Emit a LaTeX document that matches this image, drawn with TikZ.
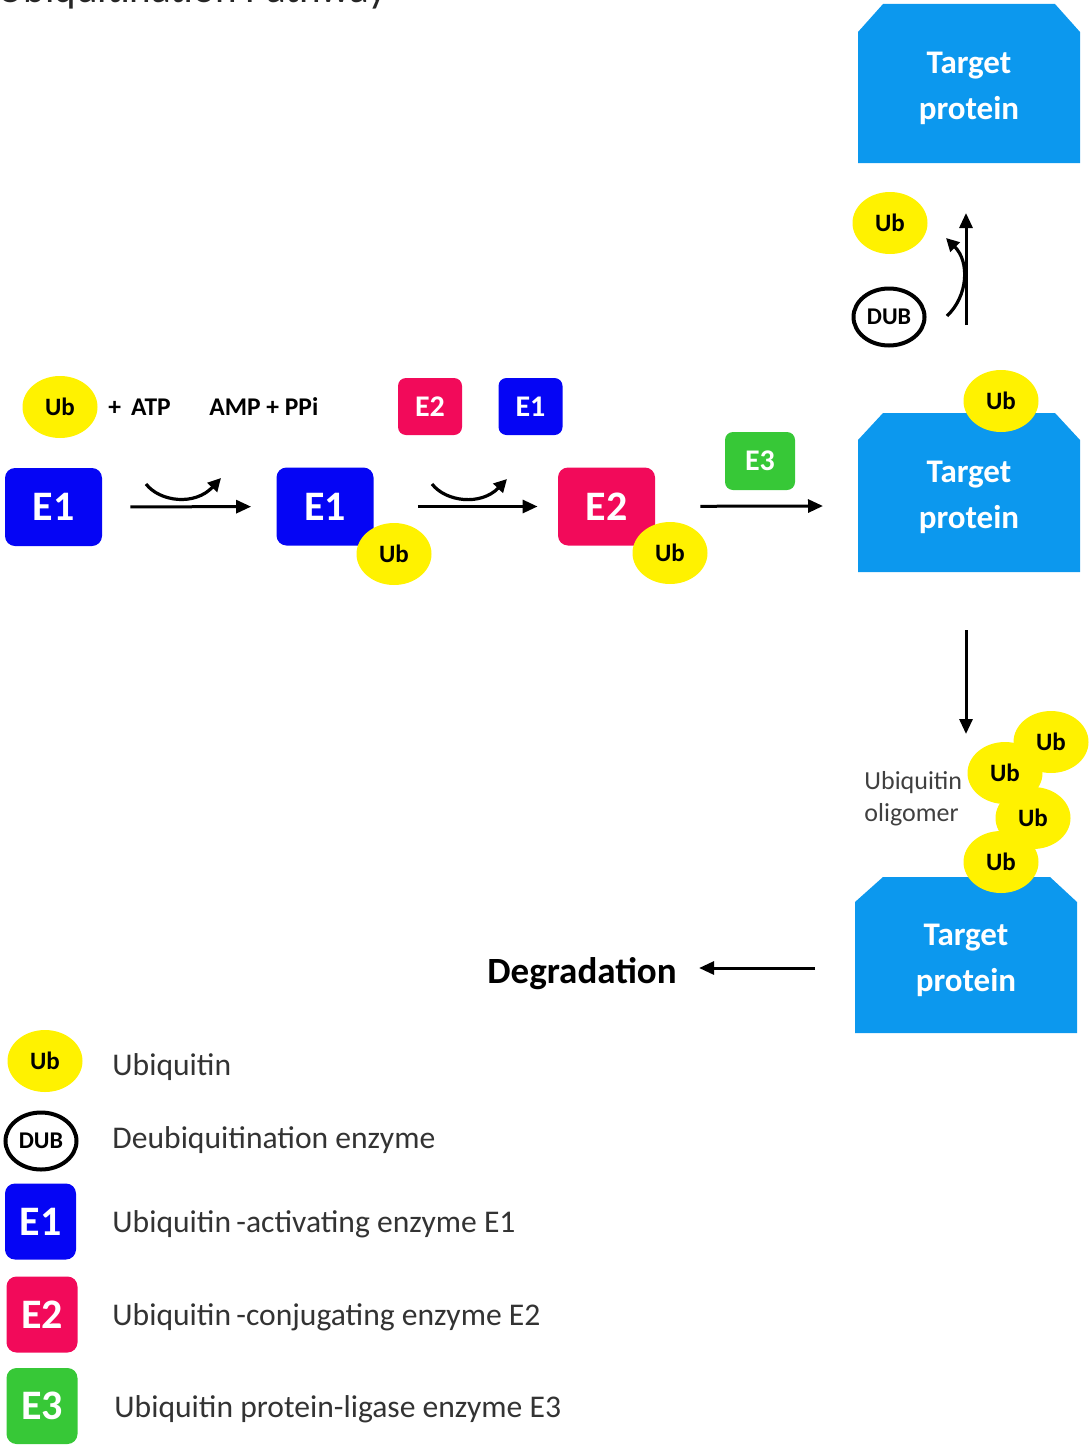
\documentclass[tikz,border=0pt]{standalone}
\usepackage{fontspec}
\setmainfont{Carlito}
\usetikzlibrary{arrows.meta,shapes.geometric}
\definecolor{ubY}{RGB}{255,242,0}
\definecolor{e1B}{RGB}{5,5,245}
\definecolor{e2R}{RGB}{242,10,90}
\definecolor{e3G}{RGB}{55,200,55}
\definecolor{tpB}{RGB}{12,152,238}
\begin{document}
\begin{tikzpicture}[x=0.5pt,y=-0.5pt,
  ub/.style={ellipse, fill=ubY, minimum width=37.5pt, minimum height=31pt, inner sep=0pt, font=\bfseries\fontsize{12.5pt}{15pt}\selectfont},
  dubn/.style={ellipse, draw=black, line width=2pt, fill=white, minimum width=35.5pt, minimum height=28.5pt, inner sep=0pt, font=\bfseries\fontsize{12pt}{14pt}\selectfont},
  enz/.style={rounded corners=5pt, inner sep=0pt, text=white, font=\bfseries\fontsize{21pt}{24pt}\selectfont, minimum width=48.5pt, minimum height=39pt},
  enzs/.style={rounded corners=4pt, inner sep=0pt, text=white, font=\bfseries\fontsize{15pt}{18pt}\selectfont, minimum width=32pt, minimum height=28.5pt},
  enzl/.style={enz, minimum width=35.5pt, minimum height=38pt},
  tptext/.style={align=center, text=white, font=\bfseries\fontsize{16.5pt}{23pt}\selectfont, inner sep=0pt},
  arr/.style={-{Triangle[length=7.5pt,width=6.5pt]}, line width=1.5pt},
  carr/.style={-{Triangle[length=6.5pt,width=6.5pt]}, line width=1.6pt},
  leg/.style={anchor=base west, inner sep=0pt, text=black!80, font=\fontsize{15.8pt}{18pt}\selectfont},
  chem/.style={anchor=base west, inner sep=0pt, font=\bfseries\fontsize{12.75pt}{15pt}\selectfont},
]
\useasboundingbox (0,0) rectangle (1089,1445);
\clip (0,0) rectangle (1089,1445);

% title (cut at top)
\node[anchor=base west, inner sep=0pt, font=\fontsize{20.5pt}{24pt}\selectfont, text=black!85] (title) at (-3,3) {Ubiquitination Pathway};

% top row
\node[ub] (ub0) at (60,407) {Ub};
\node[chem] (atp) at (108,415) {+\hspace{5pt}ATP};
\node[chem] (amp) at (209,415) {AMP + PPi};
\node[enzs, fill=e2R] (e2s) at (430,406.5) {E2};
\node[enzs, fill=e1B] (e1s) at (530.5,406.5) {E1};
\node[enzs, fill=e3G, minimum width=35pt, minimum height=29pt] (e3s) at (760,461) {E3};

% main row
\node[enz, fill=e1B] (e1a) at (53.5,507) {E1};
\node[enz, fill=e1B] (e1b) at (325,506.5) {E1};
\node[ub] (ub1) at (394,554) {Ub};
\node[enz, fill=e2R] (e2b) at (606.5,506.5) {E2};
\node[ub] (ub2) at (670,553) {Ub};

\draw[arr, shorten <=14pt, shorten >=12.5pt] (e1a) -- (e1b);
\draw[carr] (146,484) .. controls (160,502) and (195,506) .. (221,478);
\draw[arr, shorten <=22pt, shorten >=10pt] (e1b) -- (e2b);
\draw[carr] (432,484) .. controls (446,502) and (481,506) .. (507,479);
\coordinate (a3) at (823,506);
\draw[arr, shorten <=22.5pt] (e2b) -- (a3);

% target proteins
\fill[tpB] (858,32) -- (883,4) -- (1055,4) -- (1080,32) -- (1080,163) -- (858,163) -- cycle;
\node[tptext] (tp1) at (969,88) {Target\\protein};

\fill[tpB] (858,440) -- (883,413) -- (1055,413) -- (1080,440) -- (1080,572) -- (858,572) -- cycle;
\node[tptext] (tp2) at (969,497) {Target\\protein};
\node[ub] (ub4) at (1001,401) {Ub};

\fill[tpB] (855,902) -- (883,877) -- (1050,877) -- (1077,902) -- (1077,1033) -- (855,1033) -- cycle;
\node[tptext] (tp3) at (966,960) {Target\\protein};

% DUB step
\node[ub] (ub3) at (890,223) {Ub};
\node[dubn] (dub) at (889,317) {DUB};
\coordinate (v1) at (966,325);
\coordinate (v2) at (966,213);
\draw[arr] (v1) -- (v2);
\draw[carr] (947,316) .. controls (968,296) and (970,262) .. (946,238);

% down arrow
\coordinate (d1) at (966,630);
\coordinate (d2) at (966,734);
\draw[arr] (d1) -- (d2);

% oligomer
\node[ub] (ub5) at (1051,742) {Ub};
\node[ub] (ub6) at (1005,773) {Ub};
\node[ub] (ub7) at (1033,818) {Ub};
\node[ub] (ub8) at (1001,862) {Ub};
\node[anchor=west, align=left, inner sep=0pt, font=\fontsize{13pt}{16pt}\selectfont, text=black!75] (olig) at (864,799) {Ubiquitin\\oligomer};

% degradation
\node[anchor=base west, inner sep=0pt, font=\bfseries\fontsize{18.5pt}{21pt}\selectfont] (deg) at (487,983) {Degradation};
\coordinate (g1) at (815,968);
\draw[arr, shorten >=11pt] (g1) -- (g1 -| deg.east);

% legend
\node[ub] (lub) at (45,1061) {Ub};
\node[dubn] (ldub) at (41,1141) {DUB};
\node[enzl, fill=e1B] (le1) at (40.5,1221.5) {E1};
\node[enzl, fill=e2R] (le2) at (42,1314.5) {E2};
\node[enzl, fill=e3G] (le3) at (42,1406) {E3};
\node[leg] (t1) at (112,1075) {Ubiquitin};
\node[leg] (t2) at (112,1148) {Deubiquitination enzyme};
\node[leg] (t3) at (112,1232) {Ubiquitin\,-activating enzyme E1};
\node[leg] (t4) at (112,1325) {Ubiquitin\,-conjugating enzyme E2};
\node[leg] (t5) at (114,1417) {Ubiquitin protein-ligase enzyme E3};
\end{tikzpicture}
\end{document}
